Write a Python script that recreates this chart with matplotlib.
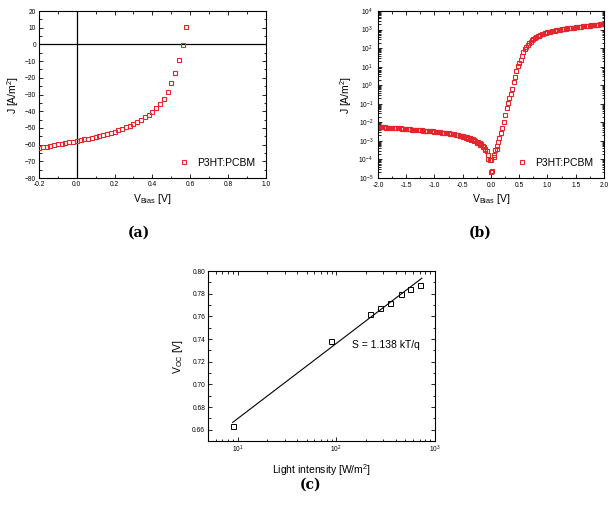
import numpy as np
import matplotlib
matplotlib.use('Agg')
import matplotlib.pyplot as plt
from matplotlib.ticker import MultipleLocator, LogLocator, NullFormatter

plt.rcParams['font.family'] = ['Liberation Sans', 'DejaVu Sans']
plt.rcParams['mathtext.fontset'] = 'custom'
plt.rcParams['mathtext.rm'] = 'Liberation Sans'
plt.rcParams['mathtext.it'] = 'Liberation Sans:italic'

# (a) J-V under illumination
v_a = [-0.20, -0.18, -0.16, -0.14, -0.12, -0.10, -0.08, -0.06, -0.04, -0.02,
       0.00, 0.02, 0.04, 0.06, 0.08, 0.10, 0.12, 0.14, 0.16, 0.18,
       0.20, 0.22, 0.24, 0.26, 0.28, 0.30, 0.32, 0.34, 0.36, 0.38,
       0.40, 0.42, 0.44, 0.46, 0.48, 0.50, 0.52, 0.54, 0.56, 0.58]
j_a = [-62.0, -61.6, -61.2, -60.8, -60.3, -59.9, -59.5, -59.1, -58.7, -58.3,
       -57.9, -57.4, -56.9, -56.4, -55.9, -55.4, -54.8, -54.2, -53.6, -52.9,
       -52.2, -51.4, -50.6, -49.7, -48.7, -47.6, -46.4, -45.1, -43.7, -42.1,
       -40.2, -38.2, -35.6, -32.4, -28.3, -23.3, -17.1, -9.6, -0.2, 10.6]

# (b) dark J-V, log10 of |J|, sweep -2 V .. 2 V in 0.025 V steps
v_b = np.round(np.arange(-2.0, 2.0001, 0.025), 3)
logj_b = [
    -2.25, -2.25, -2.26, -2.26, -2.27, -2.27, -2.28, -2.28, -2.29, -2.29,
    -2.30, -2.30, -2.31, -2.31, -2.32, -2.33, -2.33, -2.34, -2.35, -2.35,
    -2.36, -2.37, -2.37, -2.38, -2.39, -2.39, -2.40, -2.41, -2.41, -2.42,
    -2.43, -2.43, -2.44, -2.45, -2.46, -2.46, -2.47, -2.48, -2.49, -2.49,
    -2.50, -2.51, -2.52, -2.53, -2.54, -2.55, -2.56, -2.57, -2.58, -2.59,
    -2.60, -2.61, -2.62, -2.63, -2.65, -2.66, -2.68, -2.69, -2.71, -2.73,
    -2.75, -2.77, -2.79, -2.81, -2.84, -2.86, -2.89, -2.92, -2.96, -3.00,
    -3.04, -3.08, -3.13, -3.19, -3.25, -3.32, -3.41, -3.55, -3.74, -4.05,
    -4.65, -4.60, -3.78, -3.50, -3.30, -3.05, -2.85, -2.60, -2.30, -1.98,
    -1.62, -1.22, -0.95, -0.70, -0.45, -0.20, 0.15, 0.45, 0.75, 1.02,
    1.22, 1.38, 1.60, 1.80, 1.95, 2.08, 2.19, 2.28, 2.35, 2.43,
    2.49, 2.55, 2.60, 2.64, 2.68, 2.72, 2.75, 2.78, 2.80, 2.83,
    2.85, 2.87, 2.89, 2.91, 2.93, 2.94, 2.96, 2.97, 2.99, 3.00,
    3.01, 3.02, 3.03, 3.05, 3.06, 3.07, 3.08, 3.09, 3.10, 3.11,
    3.12, 3.13, 3.14, 3.15, 3.16, 3.17, 3.17, 3.18, 3.19, 3.20,
    3.21, 3.22, 3.23, 3.24, 3.25, 3.26, 3.27, 3.28, 3.29, 3.30,
    3.31]
# second sweep points near 0 V
v_b2 = [-0.55, -0.50, -0.45, -0.40, -0.35, -0.30, -0.25, -0.20, -0.15, -0.10,
        -0.05, 0.00, 0.05, 0.10]
logj_b2 = [-2.76, -2.80, -2.85, -2.90, -2.96, -3.03, -3.10, -3.20, -3.32, -3.50,
           -3.95, -4.05, -3.85, -3.45]

# (c) Voc vs light intensity
light = [8.9, 89, 222, 281, 355, 449, 562, 705]
voc = [0.663, 0.738, 0.762, 0.767, 0.772, 0.780, 0.784, 0.788]

red = '#e3262b'
tick_fs = 4.8
lab_fs = 7.5


def style_axes(ax):
    ax.tick_params(which='both', direction='in', top=True, right=True,
                   labelsize=tick_fs, width=0.6, pad=2)
    ax.tick_params(which='major', length=3)
    ax.tick_params(which='minor', length=1.8)
    for s in ax.spines.values():
        s.set_linewidth(0.8)


fig = plt.figure(figsize=(6.13, 5.05), dpi=100)

# ---- (a)
ax1 = fig.add_axes([0.0636, 0.6475, 0.370, 0.3307])
ax1.axhline(0, color='black', lw=0.9, zorder=1)
ax1.axvline(0, color='black', lw=0.9, zorder=1)
ax1.plot(v_a, j_a, 's', mfc='none', mec=red, ms=3.2, mew=0.8, label='P3HT:PCBM', zorder=3)
ax1.set_xlim(-0.2, 1.0)
ax1.set_ylim(-80, 20)
ax1.xaxis.set_major_locator(MultipleLocator(0.2))
ax1.xaxis.set_minor_locator(MultipleLocator(0.1))
ax1.yaxis.set_major_locator(MultipleLocator(10))
ax1.yaxis.set_minor_locator(MultipleLocator(5))
ax1.set_xticklabels([f'{t:.1f}' for t in ax1.get_xticks()])
style_axes(ax1)
ax1.set_xlabel(r'V$_{\mathregular{Bias}}$ [V]', fontsize=lab_fs, labelpad=3)
ax1.set_ylabel(r'J [A/m$^\mathregular{2}$]', fontsize=lab_fs, labelpad=3)
ax1.legend(loc='lower right', frameon=False, fontsize=7.5, handlelength=1.4,
           handletextpad=0.6, borderaxespad=0.6)

# ---- (b)
ax2 = fig.add_axes([0.6166, 0.6475, 0.3687, 0.3307])
ax2.plot(v_b, 10 ** np.array(logj_b), 's', mfc='none', mec=red, ms=3.2, mew=0.8,
         label='P3HT:PCBM')
ax2.plot(v_b2, 10 ** np.array(logj_b2), 's', mfc='none', mec=red, ms=3.2, mew=0.8)
ax2.set_yscale('log')
ax2.set_xlim(-2.0, 2.0)
ax2.set_ylim(1e-5, 1e4)
ax2.xaxis.set_major_locator(MultipleLocator(0.5))
ax2.xaxis.set_minor_locator(MultipleLocator(0.25))
ax2.yaxis.set_major_locator(LogLocator(base=10, numticks=20))
ax2.yaxis.set_minor_locator(LogLocator(base=10, subs=np.arange(2, 10), numticks=20))
ax2.yaxis.set_minor_formatter(NullFormatter())
ax2.set_xticklabels([f'{t:.1f}' for t in ax2.get_xticks()])
style_axes(ax2)
ax2.tick_params(axis='y', pad=3.5)
ax2.tick_params(axis='x', pad=3)
ax2.set_xlabel(r'V$_{\mathregular{Bias}}$ [V]', fontsize=lab_fs, labelpad=2)
ax2.set_ylabel(r'J [A/m$^\mathregular{2}$]', fontsize=lab_fs, labelpad=3)
ax2.legend(loc='lower right', frameon=False, fontsize=7.5, handlelength=1.4,
           handletextpad=0.6, borderaxespad=0.6)

# ---- (c)
ax3 = fig.add_axes([0.3393, 0.1267, 0.370, 0.3366])
ax3.plot(light, voc, 's', mfc='none', mec='black', ms=3.6, mew=0.7, zorder=3)
slope, icpt = np.polyfit(np.log10(light), voc, 1)
xf = np.array([min(light), max(light) * 1.05])
ax3.plot(xf, icpt + slope * np.log10(xf), color='black', lw=0.8)
ax3.set_xscale('log')
ax3.set_xlim(5, 1000)
ax3.set_ylim(0.65, 0.80)
ax3.yaxis.set_major_locator(MultipleLocator(0.02))
ax3.yaxis.set_minor_locator(MultipleLocator(0.01))
ax3.set_yticks(np.arange(0.66, 0.801, 0.02))
ax3.set_yticklabels([f'{t:.2f}' for t in np.arange(0.66, 0.801, 0.02)])
ax3.xaxis.set_minor_locator(LogLocator(base=10, subs=np.arange(2, 10), numticks=20))
ax3.xaxis.set_minor_formatter(NullFormatter())
style_axes(ax3)
ax3.text(0.637, 0.565, 'S = 1.138 kT/q', transform=ax3.transAxes, fontsize=7.5,
         va='center', ha='left')
ax3.set_xlabel(r'Light intensity [W/m$^\mathregular{2}$]', fontsize=lab_fs, labelpad=5)
ax3.set_ylabel(r'V$_{\mathregular{OC}}$ [V]', fontsize=lab_fs, labelpad=5)

# captions
for xc, yc, s in [(0.2268, 0.539, '(a)'), (0.783, 0.539, '(b)'), (0.507, 0.0396, '(c)')]:
    fig.text(xc, yc, s, ha='center', va='center', fontsize=10, fontweight='bold',
             family='DejaVu Serif')

fig.savefig('out.png', dpi=100)
